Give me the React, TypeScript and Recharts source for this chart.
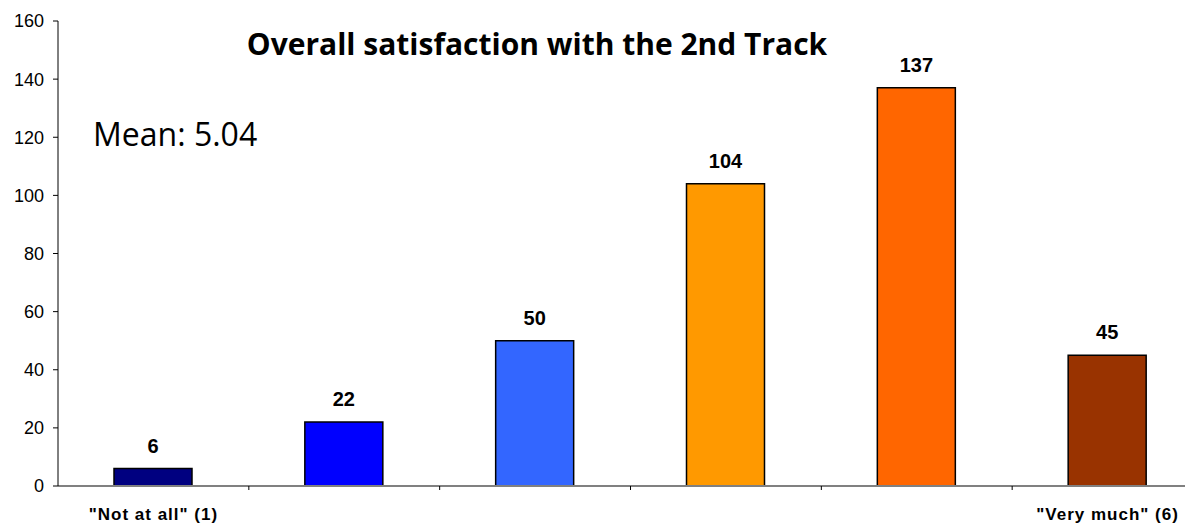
import { BarChart, Bar, XAxis, YAxis, Cell, LabelList } from 'recharts';

const categories = ['1', '2', '3', '4', '5', '6'];
const counts = [6, 22, 50, 104, 137, 45];
const barColors = ['#000080', '#0000FF', '#3366FF', '#FF9900', '#FF6600', '#993300'];
const tickLabels = ['"Not at all" (1)', '', '', '', '', '"Very much" (6)'];
const yTicks = [0, 20, 40, 60, 80, 100, 120, 140, 160];

const data = categories.map((c, i) => ({ name: c, value: counts[i] }));

const CHART_W = 1210;
const CHART_H = 526;
const MARGIN = { top: 21, right: 7, left: 0, bottom: 0 };
const Y_W = 58;
const BAND = (CHART_W - MARGIN.left - MARGIN.right - Y_W) / categories.length;

function CategoryTick(props: any) {
  const { x, y, index } = props;
  const label = tickLabels[index] ?? '';
  const top = y - 8; // recharts hands over y below tickSize + tickMargin
  return (
    <g>
      {index > 0 && (
        <line x1={x - BAND / 2} x2={x - BAND / 2} y1={top} y2={top + 4} stroke="#000" strokeWidth={1} />
      )}
      {label && (
        <text
          x={x}
          y={top + 34}
          textAnchor="middle"
          fontFamily="'Liberation Sans', Arial, sans-serif"
          fontWeight="bold"
          fontSize={17}
          letterSpacing={1}
          fill="#000"
        >
          {label}
        </text>
      )}
    </g>
  );
}

export default function App() {
  return (
    <div style={{ position: 'fixed', left: 0, top: 0, width: 1185, height: 526, overflow: 'hidden', background: '#fff' }}>
      <BarChart width={CHART_W} height={CHART_H} data={data} margin={MARGIN}>
        <XAxis
          dataKey="name"
          height={40}
          axisLine={{ stroke: '#808080', strokeWidth: 2 }}
          tickLine={false}
          tick={<CategoryTick />}
          interval={0}
        />
        <YAxis
          width={Y_W}
          domain={[0, 160]}
          ticks={yTicks}
          interval={0}
          axisLine={{ stroke: '#000', strokeWidth: 1 }}
          tickLine={{ stroke: '#000' }}
          tickSize={5}
          tickMargin={9}
          tick={{ fill: '#000', fontSize: 18, fontFamily: "'Liberation Sans', Arial, sans-serif" }}
        />
        <Bar dataKey="value" barSize={78} stroke="#000" strokeWidth={1.5} isAnimationActive={false}>
          {data.map((_, i) => (
            <Cell key={i} fill={barColors[i]} />
          ))}
          <LabelList
            dataKey="value"
            position="top"
            offset={16}
            fill="#000"
            fontSize={20}
            fontWeight="bold"
            fontFamily="'Liberation Sans', Arial, sans-serif"
          />
        </Bar>
        <text
          x={537}
          y={55}
          textAnchor="middle"
          fontFamily="'Open Sans', Lato, sans-serif"
          fontWeight="bold"
          fontSize={30}
          fill="#000"
        >
          Overall satisfaction with the 2nd Track
        </text>
        <text x={93} y={146} fontFamily="'Open Sans', Lato, sans-serif" fontSize={32} fill="#000">
          Mean: 5.04
        </text>
      </BarChart>
    </div>
  );
}
